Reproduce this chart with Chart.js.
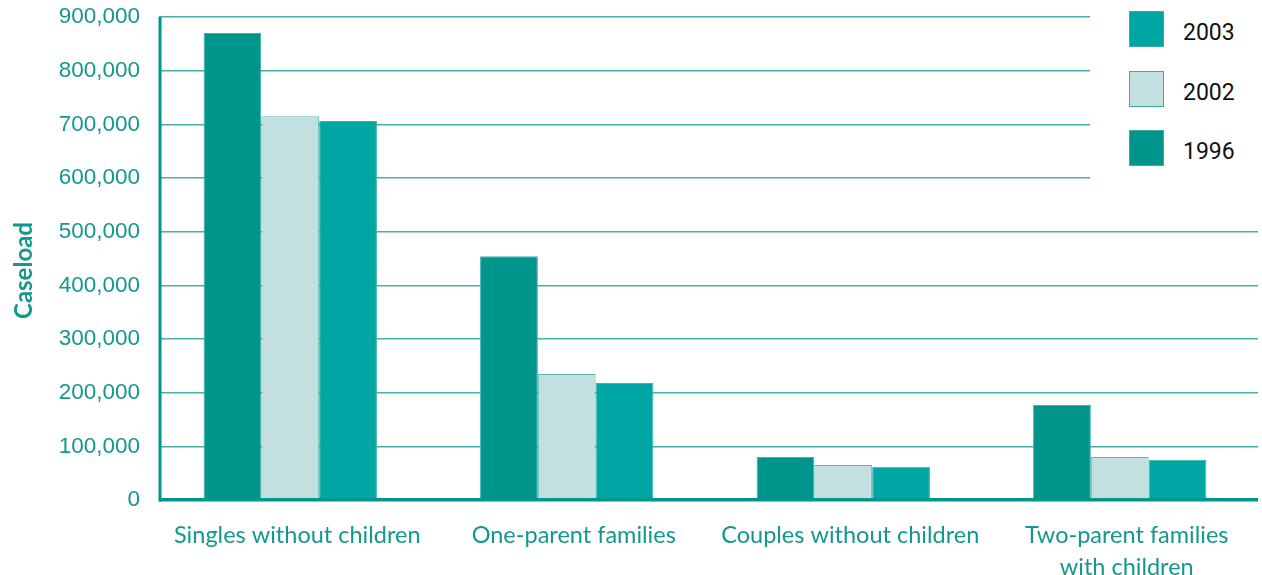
<!DOCTYPE html>
<html>
<head>
<meta charset="utf-8">
<script src="https://cdn.jsdelivr.net/npm/chart.js@4"></script>
<style>
  body { margin: 0; background: #fff; }
  #wrap { position: relative; width: 1262px; height: 575px; }
  #legend { position: absolute; left: 1090px; top: 0; width: 172px; height: 182px; background: #fff; }
  .item { position: absolute; left: 39px; height: 36px; }
  .box { position: absolute; left: 0; top: 0; width: 35px; height: 36px; box-sizing: border-box; border: 1px solid #3aaea6; }
  .lab { position: absolute; left: 54px; top: 8px; font: 23px Roboto, sans-serif; color: #111; }
</style>
</head>
<body>
<div id="wrap">
  <canvas id="myChart" width="1262" height="575"></canvas>
  <div id="legend"></div>
</div>
<script>
const categories = ['Singles without children', 'One-parent families', 'Couples without children', ['Two-parent families', 'with children']];
const years = ['1996', '2002', '2003'];
const values1996 = [870000, 454000, 80000, 177000];
const values2002 = [715000, 235000, 65000, 80000];
const values2003 = [706000, 218000, 62000, 75000];
const colors = ['#00958c', '#c2e0e0', '#00a6a3'];
const teal = '#12988e';

// axis line sits a bit right of the plot edge, like the original
const axisLine = {
  id: 'axisLine',
  beforeDatasetsDraw(chart) {
    const { ctx, chartArea } = chart;
    ctx.save();
    ctx.fillStyle = '#fff';
    ctx.fillRect(chartArea.left - 1, chartArea.top - 2, 8, chartArea.bottom - chartArea.top + 6);
    ctx.strokeStyle = '#00968d';
    ctx.lineWidth = 3;
    ctx.beginPath();
    ctx.moveTo(chartArea.left + 8, chartArea.top);
    ctx.lineTo(chartArea.left + 8, chartArea.bottom + 1.5);
    ctx.stroke();
    ctx.restore();
  }
};

const ctx = document.getElementById('myChart').getContext('2d');
const chart = new Chart(ctx, {
  type: 'bar',
  data: {
    labels: categories,
    datasets: [values1996, values2002, values2003].map((vals, i) => ({
      label: years[i],
      data: vals,
      backgroundColor: colors[i],
      borderColor: i == 1 ? '#5ab8b0' : '#3fb0a8',
      borderWidth: 1,
      borderSkipped: 'bottom',
      categoryPercentage: 0.627,
      barPercentage: 1
    }))
  },
  options: {
    responsive: false,
    animation: false,
    layout: { padding: { top: 0, right: 4, left: 0, bottom: 0 } },
    plugins: {
      legend: { display: false },
      tooltip: { enabled: false }
    },
    scales: {
      x: {
        grid: { display: false },
        border: { display: false },
        ticks: {
          color: teal,
          font: { family: 'Lato', size: 23.5, lineHeight: 1.36 },
          padding: 11,
          labelOffset: 7,
          maxRotation: 0,
          autoSkip: false
        },
        afterFit: (scale) => { scale.height = 75; }
      },
      y: {
        min: 0,
        max: 900000,
        ticks: {
          stepSize: 100000,
          color: teal,
          padding: 12,
          font: { family: 'Liberation Sans', size: 22.5 },
          callback: (v) => v.toLocaleString('en-US')
        },
        grid: {
          drawTicks: false,
          color: (c) => c.tick.value === 0 ? '#00968d' : '#46b1a9',
          lineWidth: (c) => c.tick.value === 0 ? 3.5 : 1.5
        },
        border: { display: false },
        title: {
          display: true,
          text: 'Caseload\u2002\u2002',
          color: teal,
          font: { family: 'Lato', size: 24, weight: 'bold' },
          padding: { top: 10, bottom: 0 }
        },
        afterFit: (scale) => {
          scale.width = 152;
          scale.paddingTop = 17;
          scale.paddingBottom = 0;
        }
      }
    }
  },
  plugins: [axisLine]
});

// legend, newest year first
const legend = document.getElementById('legend');
chart.data.datasets.slice().reverse().forEach((ds, i) => {
  const item = document.createElement('div');
  item.className = 'item';
  item.style.top = (11 + i * 59.5) + 'px';
  item.innerHTML = '<div class="box" style="background:' + ds.backgroundColor + '"></div><div class="lab">' + ds.label + '</div>';
  legend.appendChild(item);
});
</script>
</body>
</html>
